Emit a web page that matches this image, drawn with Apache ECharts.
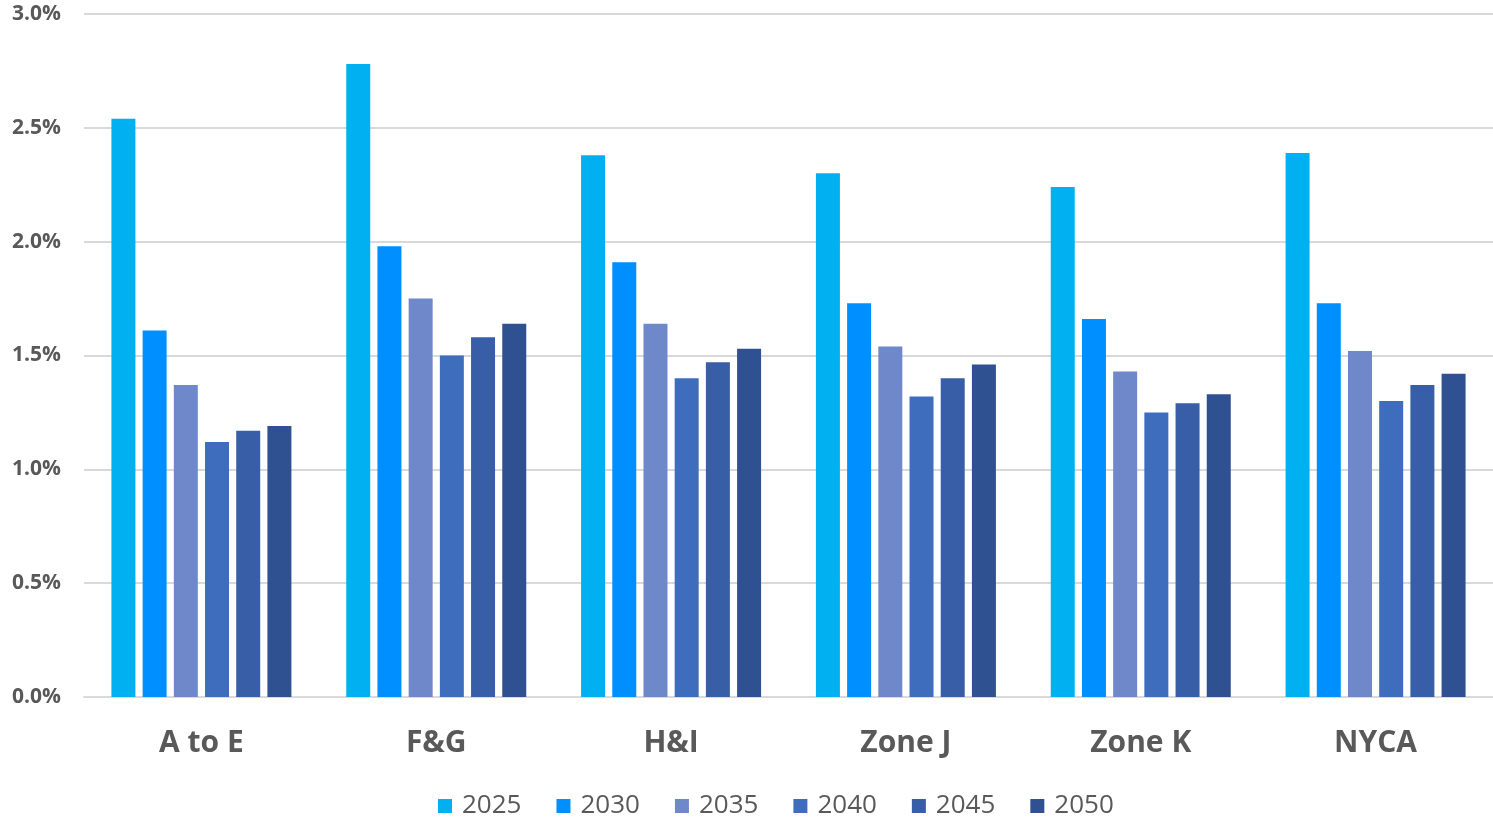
<!DOCTYPE html>
<html>
<head>
<meta charset="utf-8">
<script src="https://cdn.jsdelivr.net/npm/echarts@6/dist/echarts.min.js"></script>
<style>
html,body{margin:0;padding:0;background:#fff;}
#chart{width:1493px;height:817px;}
</style>
</head>
<body>
<div id="chart"></div>
<script>
const categories = ['A to E', 'F&G', 'H&I', 'Zone J', 'Zone K', 'NYCA'];
const seriesNames = ['2025', '2030', '2035', '2040', '2045', '2050'];
const v2025 = [2.54, 2.78, 2.38, 2.30, 2.24, 2.39];
const v2030 = [1.61, 1.98, 1.91, 1.73, 1.66, 1.73];
const v2035 = [1.37, 1.75, 1.64, 1.54, 1.43, 1.52];
const v2040 = [1.12, 1.50, 1.40, 1.32, 1.25, 1.30];
const v2045 = [1.17, 1.58, 1.47, 1.40, 1.29, 1.37];
const v2050 = [1.19, 1.64, 1.53, 1.46, 1.33, 1.42];
const yTicks = [0, 0.5, 1.0, 1.5, 2.0, 2.5, 3.0];
const colors = ['#00B0F0', '#008FFF', '#6E88C9', '#3F6DBD', '#375EA6', '#2F5191'];

const allValues = [v2025, v2030, v2035, v2040, v2045, v2050];
const font = '"Open Sans", "Noto Sans", sans-serif';

const chart = echarts.init(document.getElementById('chart'));
chart.setOption({
  animation: false,
  color: colors,
  grid: { left: 84, right: -5, top: 14, bottom: 120, containLabel: false },
  legend: {
    data: seriesNames,
    top: 788,
    left: 433,
    icon: 'rect',
    itemWidth: 14,
    itemHeight: 14,
    itemGap: 35,
    textStyle: { fontFamily: font, fontSize: 26, color: '#595959', padding: [0, 0, 0, 5] }
  },
  xAxis: {
    type: 'category',
    data: categories,
    axisLine: { show: true, lineStyle: { color: '#D9D9D9', width: 2 } },
    axisTick: { show: false },
    axisLabel: { fontFamily: font, fontSize: 30, fontWeight: 'bold', color: '#595959', margin: 31 }
  },
  yAxis: {
    type: 'value',
    min: yTicks[0],
    max: yTicks[yTicks.length - 1],
    interval: 0.5,
    axisLine: { show: false },
    axisTick: { show: false },
    splitLine: { lineStyle: { color: '#D9D9D9', width: 2 } },
    axisLabel: {
      fontFamily: font, fontSize: 21, fontWeight: 'bold', color: '#595959', margin: 23,
      formatter: v => v.toFixed(1) + '%'
    }
  },
  series: seriesNames.map((n, i) => ({
    name: n,
    type: 'bar',
    data: allValues[i],
    barWidth: 24,
    barGap: '30%',
    itemStyle: { color: colors[i] }
  }))
});
</script>
</body>
</html>
